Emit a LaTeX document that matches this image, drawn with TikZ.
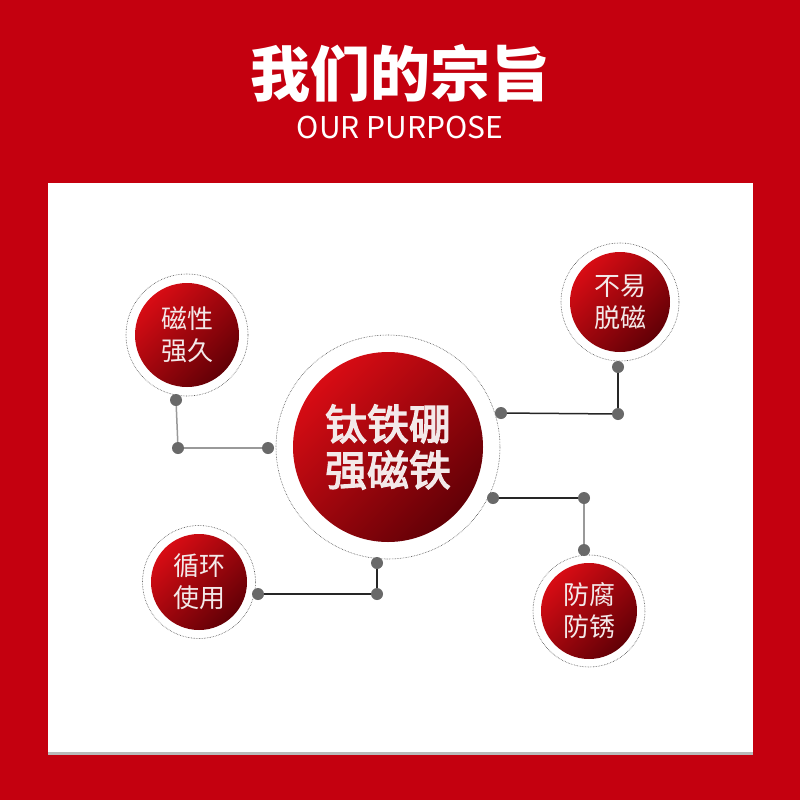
\documentclass[tikz,border=0pt]{standalone}
\usepackage{fontspec}
\setmainfont{Noto Sans CJK SC}
\newfontfamily\midfont[FakeBold=3]{Noto Sans CJK SC}
\usetikzlibrary{positioning}
\definecolor{cRed}{RGB}{196,0,15}
\definecolor{cLight}{RGB}{216,12,20}
\definecolor{cDark}{RGB}{98,0,6}
\definecolor{cText}{RGB}{243,233,233}
\definecolor{cDot}{RGB}{105,105,105}
\definecolor{cShadow}{RGB}{185,185,185}
\tikzset{
  ball/.style={circle, inner sep=0pt, top color=cLight, bottom color=cDark,
    shading angle=45, text=cText, align=center},
  ring/.style={draw=black!70, densely dotted, line width=0.6pt},
  dot/.style={circle, fill=cDot, inner sep=0pt, minimum size=12pt},
  link/.style={line width=1.5pt, draw=black!85},
  linkgray/.style={line width=1.5pt, draw=black!40},
}

\begin{document}
\begin{tikzpicture}[x=1pt, y=-1pt]
  \useasboundingbox (0,0) rectangle (800,800);
  % Background and panel
  \fill[cRed] (0,0) rectangle (800,800);
  \fill[cShadow] (48,185) rectangle (753,755);
  \fill[white] (48,183) rectangle (753,752);
  % Title
  \node[text=white, font=\bfseries\fontsize{60}{60}\selectfont] (title) at (400,73) {我们的宗旨};
  \node[text=white, font=\fontsize{30}{30}\selectfont] (subtitle) at (400,128) {OUR PURPOSE};
  % Circles
  \node[ball, minimum size=190pt, font=\midfont\fontsize{42}{46}\selectfont] (core) at (388,447) {钛铁硼\\强磁铁};
  \node[ball, minimum size=104pt, font=\fontsize{26}{32}\selectfont] (tl) at (187,335) {磁性\\强久};
  \node[ball, minimum size=100pt, font=\fontsize{26}{32}\selectfont] (tr) at (620,302) {不易\\脱磁};
  \node[ball, minimum size=96pt, font=\fontsize{26}{32}\selectfont] (bl) at (199,582) {循环\\使用};
  \node[ball, minimum size=96pt, font=\fontsize{26}{32}\selectfont] (br) at (589,611) {防腐\\防锈};
  % Dotted rings
  \draw[ring] (core) circle (112);
  \draw[ring] (tl) circle (61);
  \draw[ring] (tr) circle (59);
  \draw[ring] (bl) circle (56.5);
  \draw[ring] (br) circle (56);
  % Dots
  \node[dot] (tl1) at (176,400) {};
  \node[dot] (tl2) at (178,448) {};
  \node[dot] (tl3) at (268,448) {};
  \node[dot] (tr1) at (618,367) {};
  \node[dot] (tr2) at (618,414) {};
  \node[dot] (tr3) at (501,413) {};
  \node[dot] (bl1) at (258,594) {};
  \node[dot] (bl2) at (377,594) {};
  \node[dot] (bl3) at (377,563) {};
  \node[dot] (br1) at (493,498) {};
  \node[dot] (br2) at (584,498) {};
  \node[dot] (br3) at (584,550) {};
  % Connectors
  \draw[linkgray] (tl1) -- (tl2);
  \draw[linkgray] (tl2) -- (tl3);
  \draw[link] (tr1) -- (tr2);
  \draw[link] (tr2) -- (tr3);
  \draw[link] (bl1) -- (bl2);
  \draw[link] (bl2) -- (bl3);
  \draw[link] (br1) -- (br2);
  \draw[linkgray] (br2) -- (br3);
\end{tikzpicture}
\end{document}
